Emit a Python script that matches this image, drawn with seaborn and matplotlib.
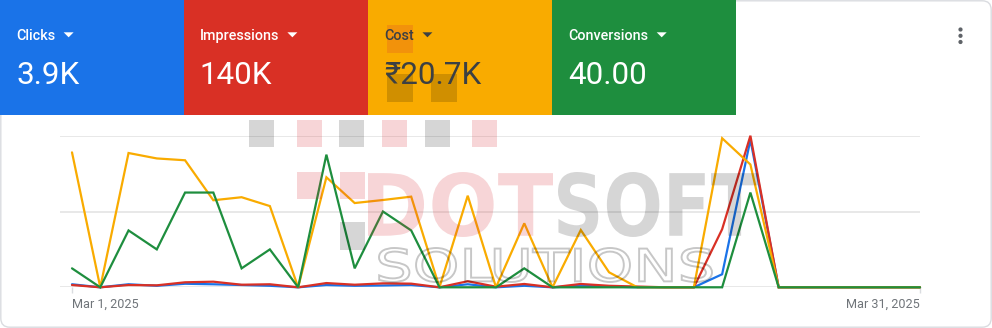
import matplotlib
matplotlib.use("Agg")
import matplotlib.pyplot as plt
import seaborn as sns
import pandas as pd
from matplotlib.patches import Rectangle, FancyBboxPatch, Polygon, PathPatch, Circle
from matplotlib.textpath import TextPath
from matplotlib.font_manager import FontProperties
from matplotlib.transforms import Affine2D

# ---------------- data ----------------
days = list(range(1, 32))  # March 2025
clicks = [60, 0, 60, 30, 70, 60, 45, 30, 0, 45, 30, 36, 45, 0, 60, 0, 30, 0, 30, 15,
          0, 0, 0, 258, 2920, 0, 0, 0, 0, 0, 0]
impressions = [1200, 0, 1200, 1040, 2640, 2960, 1360, 1600, 0, 2240, 1360, 2080, 1920, 0,
               3200, 320, 1760, 0, 1760, 800, 400, 0, 0, 30640, 80000, 0, 0, 0, 0, 0, 0]
cost = [1691, 0, 1683, 1615, 1592, 1091, 1129, 1018, 0, 1379, 1056, 1094, 1136, 0, 1148, 0,
        802, 0, 718, 188, 0, 0, 0, 1868, 1539, 0, 0, 0, 0, 0, 0]
conversions = [1, 0, 3, 2, 5, 5, 1, 2, 0, 7, 1, 4, 3, 0, 0, 0, 1, 0, 0, 0, 0, 0, 0, 0, 5,
               0, 0, 0, 0, 0, 0]
axis_max = [3000, 80000, 1900, 8]

metric_names = ["Clicks", "Impressions", "Cost", "Conversions"]
metric_totals = ["3.9K", "140K", "₹20.7K", "40.00"]
x_labels = ["Mar 1, 2025", "Mar 31, 2025"]

colors = ["#1a73e8", "#d93025", "#f9ab00", "#1e8e3e"]
text_colors = ["white", "white", "#3c4043", "white"]

# ---------------- setup ----------------
sns.set_theme(style="white")
plt.rcParams["font.family"] = ["Roboto", "Noto Sans", "DejaVu Sans"]

W, H = 992, 328
fig = plt.figure(figsize=(W / 100, H / 100), dpi=100)
fig.patch.set_facecolor("white")

def fx(x):
    return x / W

def fy(y):
    return 1 - y / H

# chart area (pixel geometry)
X0, X1 = 60, 920
YB, YT = 287.3, 135.7
px_per_day = (920 - 72) / 30.0
xmin = 1 - (72 - X0) / px_per_day

ax = fig.add_axes([fx(X0), fy(YB), (X1 - X0) / W, (YB - YT) / H])
ax.set_facecolor("none")
ax.set_ylim(0, 1)
ax.set_yticks([0, 0.5, 1])
ax.yaxis.grid(True, color="#e6e6e6", linewidth=1.3)
ax.set_axisbelow(True)
ax.tick_params(axis="y", length=0, labelleft=False)
for s in ax.spines.values():
    s.set_visible(False)

series = [clicks, impressions, cost, conversions]
for vals, ymax, col in zip(series, axis_max, colors):
    t = ax.twinx()
    df = pd.DataFrame({"day": days, "value": vals})
    sns.lineplot(data=df, x="day", y="value", ax=t, color=col, linewidth=1.6)
    t.set_ylim(0, ymax)
    t.axis("off")
    for ln in t.lines:
        ln.set_clip_on(False)
        ln.set_solid_joinstyle("miter")

ax.set_xlim(xmin, 31)
ax.set_xticks([1, 31])
ax.set_xticklabels(x_labels)
ax.tick_params(axis="x", length=4.5, width=1, color="#dadce0", pad=3.2,
               labelsize=9.1, labelcolor="#70757a", bottom=True)
lbls = ax.get_xticklabels()
lbls[0].set_ha("left")
lbls[1].set_ha("right")
ax.set_xlabel("")
ax.set_ylabel("")

# ---------------- overlay (tiles, watermark, decorations) ----------------
ov = fig.add_axes([0, 0, 1, 1], zorder=10)
ov.set_xlim(0, W)
ov.set_ylim(H, 0)
ov.axis("off")
ov.patch.set_alpha(0)

# card border
ov.add_patch(FancyBboxPatch((0.8, 0.8), W - 1.6, H - 1.6,
                            boxstyle="round,pad=0,rounding_size=9",
                            fc="none", ec="#dadce0", lw=1.0))

tile_x = [0, 183.5, 368.3, 552.2]
tile_w = [183.5, 184.8, 183.9, 184.1]
labels = []
for i in range(4):
    ov.add_patch(Rectangle((tile_x[i], 0), tile_w[i], 115, fc=colors[i], ec="none"))
    lt = ov.text(tile_x[i] + 16, 40, metric_names[i], color=text_colors[i],
                 fontsize=10.4, fontweight="medium", va="baseline", ha="left")
    ov.text(tile_x[i] + 16, 84, metric_totals[i], color=text_colors[i],
            fontsize=22.6, va="baseline", ha="left")
    labels.append(lt)

fig.canvas.draw()
renderer = fig.canvas.get_renderer()
for i, lt in enumerate(labels):
    bb = lt.get_window_extent(renderer=renderer)
    r = bb.x1
    ov.add_patch(Polygon([(r + 8.5, 32.3), (r + 18.5, 32.3), (r + 13.5, 37.3)],
                         closed=True, fc=text_colors[i], ec="none"))

# three-dot menu
for yy in (29.5, 35.8, 42.0):
    ov.add_patch(Circle((960.5, yy), 2.1, fc="#5f6368", ec="none"))

# ---------------- watermark ----------------
PINK = (0.85, 0.19, 0.22)
GREY = (0.0, 0.0, 0.0)

def square(x0, y0, x1, y1, col, a):
    ov.add_patch(Rectangle((x0, y0), x1 - x0, y1 - y0, fc=col, alpha=a, ec="none"))

def fit_text(s, x0, y0, x1, y1, col, a, weight="bold", family="DejaVu Sans",
             fill=True, lw=0.0):
    fp = FontProperties(family=family, weight=weight)
    tp = TextPath((0, 0), s, size=100, prop=fp)
    ext = tp.get_extents()
    sx = (x1 - x0) / ext.width
    sy = (y1 - y0) / ext.height
    tr = Affine2D().translate(-ext.x0, -ext.y0).scale(sx, -sy).translate(x0, y1)
    path = tr.transform_path(tp)
    if fill:
        ov.add_patch(PathPatch(path, fc=col, ec="none", alpha=a))
    else:
        ov.add_patch(PathPatch(path, fc="none", ec=col, lw=lw, alpha=a))

# squares top row
square(249, 120, 274, 147, GREY, 0.16)
square(297, 120, 322, 147, PINK, 0.2)
square(339, 120, 364, 147, GREY, 0.16)
square(382, 120, 407, 147, PINK, 0.2)
square(425, 120, 450, 147, GREY, 0.16)
square(472, 120, 497, 147, PINK, 0.2)
# squares second row
square(297, 172, 322, 199, PINK, 0.2)
square(340, 172, 365, 199, PINK, 0.2)
square(340, 222, 365, 250, GREY, 0.16)
# squares over the cost tile
square(387, 25, 413, 53, PINK, 0.2)
square(387, 74, 413, 102, GREY, 0.16)
square(431, 74, 457, 102, GREY, 0.16)

fit_text("DOT", 368, 172, 553, 237, PINK, 0.2, weight="bold")
fit_text("SOFT", 558, 172, 758, 237, GREY, 0.16, weight="bold")
fit_text("SOLUTIONS", 379, 248, 712, 282, GREY, 0.22, weight="normal",
         fill=False, lw=1.4)

fig.savefig("out.png", dpi=100, facecolor="white")
